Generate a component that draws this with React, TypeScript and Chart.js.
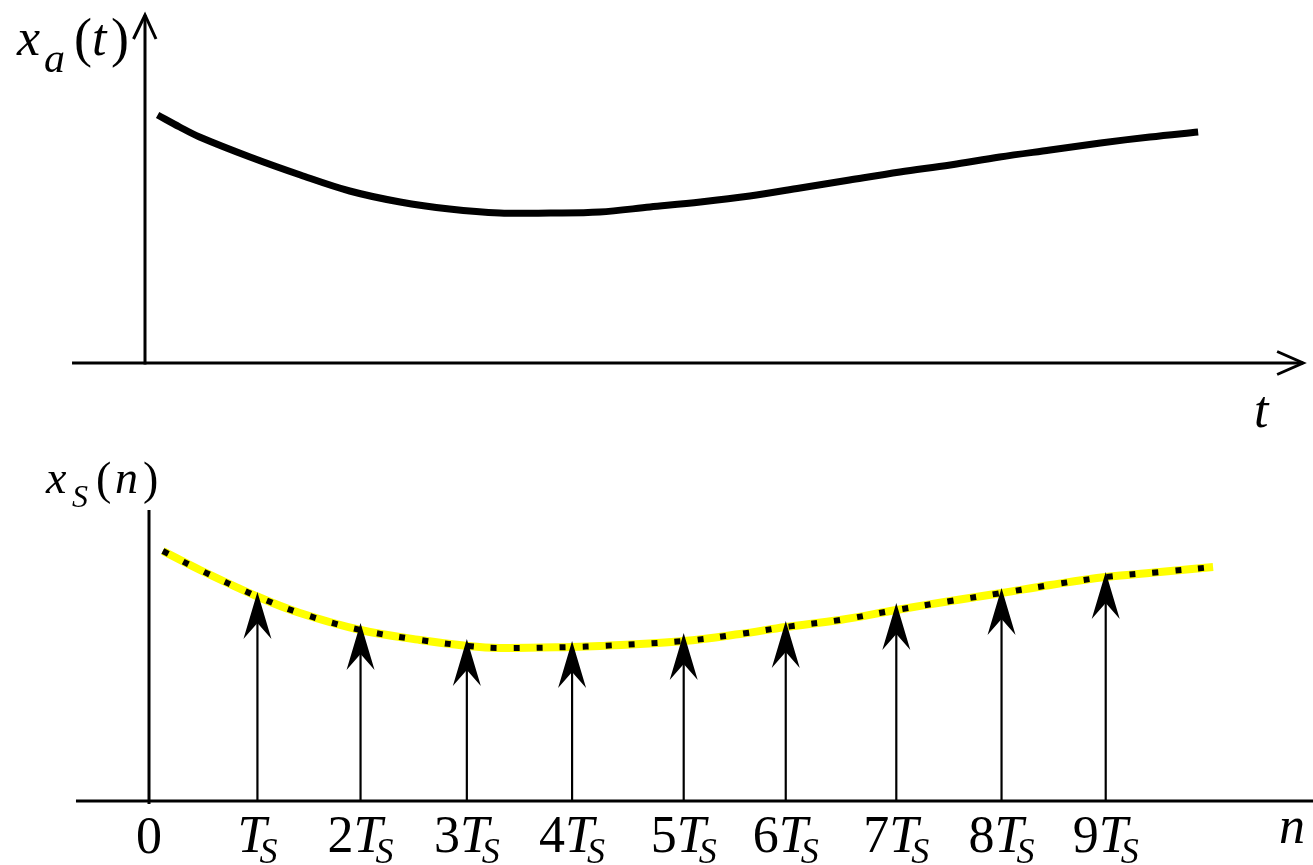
import React, { useEffect, useRef } from "react";
import { Chart, registerables } from "chart.js";

Chart.register(...registerables);

// ---------- data (time in units of T_S, amplitude in arbitrary units) ----------
const analogTime = [0.12, 0.33, 0.52, 1.0, 1.48, 1.95, 2.43, 2.9, 3.38, 3.86, 4.33, 4.81, 5.29, 5.76, 6.24, 6.71, 7.19, 7.67, 8.14, 8.62, 9.1, 9.57, 10.03];
const analogValue = [2.48, 2.36, 2.26, 2.06, 1.88, 1.72, 1.61, 1.54, 1.5, 1.5, 1.51, 1.56, 1.61, 1.67, 1.75, 1.83, 1.91, 1.98, 2.06, 2.13, 2.2, 2.26, 2.31];

const envelopeTime = [0.13, 0.48, 1.03, 1.42, 1.99, 2.55, 3.0, 3.3, 3.98, 4.24, 5.03, 5.56, 5.99, 6.5, 7.03, 7.54, 8.02, 8.48, 9.0, 9.51, 10.01];
const envelopeValue = [2.5, 2.31, 2.04, 1.88, 1.71, 1.61, 1.55, 1.53, 1.54, 1.55, 1.6, 1.67, 1.74, 1.81, 1.91, 2.0, 2.08, 2.16, 2.24, 2.29, 2.34];

const sampleTime = [1.02, 1.99, 2.99, 3.98, 5.03, 5.99, 7.03, 8.02, 9.0];
const sampleValue = [2.09, 1.78, 1.62, 1.6, 1.68, 1.8, 1.98, 2.13, 2.29];

const tickTime = [0, ...sampleTime];
const tickLabels = ["0", "T_S", "2T_S", "3T_S", "4T_S", "5T_S", "6T_S", "7T_S", "8T_S", "9T_S"];

// ---------- view ranges ----------
const TOP_T_RANGE = [-1.381, 11.124];
const TOP_A_RANGE = [-0.69, 3.63];
const BOT_T_RANGE = [-1.4017, 10.95];
const BOT_A_RANGE = [-0.64, 3.69];

const f = (size: number, italic: boolean) => `${italic ? "italic " : ""}${size}px "Liberation Serif"`;

type Piece = { text: string; font: string; x: number; y: number };

function drawPieces(ctx: CanvasRenderingContext2D, pieces: Piece[]) {
  ctx.save();
  ctx.fillStyle = "#000";
  ctx.textAlign = "left";
  ctx.textBaseline = "alphabetic";
  for (const p of pieces) {
    ctx.font = p.font;
    ctx.fillText(p.text, p.x, p.y);
  }
  ctx.restore();
}

function drawTickLabel(ctx: CanvasRenderingContext2D, label: string, cx: number, baseline: number) {
  ctx.save();
  ctx.fillStyle = "#000";
  ctx.textBaseline = "alphabetic";
  ctx.textAlign = "left";
  if (label.indexOf("T_S") < 0) {
    ctx.font = f(52, false);
    const w = ctx.measureText(label).width;
    ctx.fillText(label, cx - w / 2, baseline + 1);
    ctx.restore();
    return;
  }
  const prefix = label.replace("T_S", "");
  ctx.font = f(52, false);
  const wp = prefix ? ctx.measureText(prefix).width : 0;
  ctx.font = f(52, true);
  const wt = ctx.measureText("T").width;
  ctx.font = f(36, true);
  const ws = ctx.measureText("S").width;
  const kern = -7;
  const total = wp + wt + kern + ws;
  let x = cx - total / 2;
  if (prefix) {
    ctx.font = f(52, false);
    ctx.fillText(prefix, x, baseline);
  }
  x += wp;
  ctx.font = f(52, true);
  ctx.fillText("T", x, baseline);
  x += wt + kern;
  ctx.font = f(36, true);
  ctx.fillText("S", x, baseline + 11);
  ctx.restore();
}

function openArrowRight(ctx: CanvasRenderingContext2D, tipX: number, y: number) {
  ctx.beginPath();
  ctx.moveTo(tipX - 26, y - 11.5);
  ctx.lineTo(tipX, y);
  ctx.lineTo(tipX - 26, y + 11.5);
  ctx.stroke();
}

function openArrowUp(ctx: CanvasRenderingContext2D, x: number, tipY: number) {
  ctx.beginPath();
  ctx.moveTo(x - 11.5, tipY + 24);
  ctx.lineTo(x, tipY);
  ctx.lineTo(x + 11, tipY + 24);
  ctx.stroke();
}

const topDecor = {
  id: "topDecor",
  beforeDatasetsDraw(chart: any) {
    const { ctx } = chart;
    const xs = chart.scales.x;
    const ys = chart.scales.y;
    const x0 = xs.getPixelForValue(0);
    const y0 = ys.getPixelForValue(0);
    const xLeft = xs.getPixelForValue(-0.695);
    const xTip = xs.getPixelForValue(11.03);
    const yTip = ys.getPixelForValue(3.48);
    ctx.save();
    ctx.strokeStyle = "#000";
    ctx.lineWidth = 3;
    ctx.lineCap = "butt";
    ctx.lineJoin = "miter";
    ctx.beginPath();
    ctx.moveTo(xLeft, y0);
    ctx.lineTo(xTip, y0);
    ctx.stroke();
    openArrowRight(ctx, xTip, y0);
    ctx.beginPath();
    ctx.moveTo(x0, y0 + 1.5);
    ctx.lineTo(x0, yTip);
    ctx.stroke();
    openArrowUp(ctx, x0, yTip);
    ctx.restore();

    drawPieces(ctx, [
      { text: "x", font: f(52, true), x: 17, y: 55 },
      { text: "a", font: f(42, true), x: 44, y: 72 },
      { text: "(", font: f(54, false), x: 74, y: 56 },
      { text: "t", font: f(52, true), x: 92, y: 55 },
      { text: ")", font: f(54, false), x: 111, y: 56 },
      { text: "t", font: f(52, true), x: 1254, y: 427 },
    ]);
  },
};

const bottomDecor = {
  id: "bottomDecor",
  beforeDatasetsDraw(chart: any) {
    const { ctx } = chart;
    const xs = chart.scales.x;
    const ys = chart.scales.y;
    const x0 = xs.getPixelForValue(0);
    const y0 = ys.getPixelForValue(0);
    ctx.save();
    ctx.strokeStyle = "#000";
    ctx.lineWidth = 3;
    ctx.beginPath();
    ctx.moveTo(xs.getPixelForValue(-0.687), y0);
    ctx.lineTo(xs.getPixelForValue(BOT_T_RANGE[1]), y0);
    ctx.stroke();
    ctx.beginPath();
    ctx.moveTo(x0, ys.getPixelForValue(-0.03));
    ctx.lineTo(x0, ys.getPixelForValue(2.91));
    ctx.stroke();
    ctx.restore();

    const off = 432;
    drawPieces(ctx, [
      { text: "x", font: f(46, true), x: 46, y: 493 - off },
      { text: "S", font: f(32, true), x: 72, y: 507 - off },
      { text: "(", font: f(46, false), x: 96, y: 494 - off },
      { text: "n", font: f(46, true), x: 115, y: 493 - off },
      { text: ")", font: f(46, false), x: 143, y: 494 - off },
      { text: "n", font: f(52, true), x: 1279, y: 843 - off },
    ]);

    tickTime.forEach((t, i) => {
      drawTickLabel(ctx, tickLabels[i], xs.getPixelForValue(t), 852 - off);
    });
  },
  afterDatasetsDraw(chart: any) {
    const { ctx } = chart;
    const ys = chart.scales.y;
    const y0 = ys.getPixelForValue(0);
    const meta = chart.getDatasetMeta(2);
    ctx.save();
    ctx.fillStyle = "#000";
    ctx.strokeStyle = "#000";
    for (const pt of meta.data) {
      const x = pt.x;
      const tip = pt.y;
      ctx.lineWidth = 2.2;
      ctx.beginPath();
      ctx.moveTo(x, y0);
      ctx.lineTo(x, tip + 30);
      ctx.stroke();
      ctx.beginPath();
      ctx.moveTo(x, tip);
      ctx.lineTo(x + 14, tip + 47);
      ctx.lineTo(x, tip + 31);
      ctx.lineTo(x - 14, tip + 47);
      ctx.closePath();
      ctx.fill();
    }
    ctx.restore();
  },
};

const pairs = (xs: number[], ys: number[]) => xs.map((x, i) => ({ x, y: ys[i] }));

export default function App() {
  const topRef = useRef<HTMLCanvasElement>(null);
  const botRef = useRef<HTMLCanvasElement>(null);

  useEffect(() => {
    const common = {
      responsive: false,
      animation: false as const,
      devicePixelRatio: 1,
      layout: { padding: 0, autoPadding: false },
      plugins: { legend: { display: false }, tooltip: { enabled: false }, title: { display: false } },
      events: [] as any[],
    };

    const top = new Chart(topRef.current!, {
      type: "line",
      data: {
        datasets: [
          {
            data: pairs(analogTime, analogValue),
            borderColor: "#000",
            borderWidth: 7,
            borderCapStyle: "butt",
            pointRadius: 0,
            tension: 0.35,
            fill: false,
          },
        ],
      },
      options: {
        ...common,
        scales: {
          x: { type: "linear", min: TOP_T_RANGE[0], max: TOP_T_RANGE[1], display: false },
          y: { type: "linear", min: TOP_A_RANGE[0], max: TOP_A_RANGE[1], display: false },
        },
      },
      plugins: [topDecor],
    } as any);

    const bot = new Chart(botRef.current!, {
      type: "line",
      data: {
        datasets: [
          {
            data: pairs(envelopeTime, envelopeValue),
            borderColor: "#ffff00",
            borderWidth: 8,
            borderCapStyle: "butt",
            pointRadius: 0,
            tension: 0.35,
            fill: false,
            order: 2,
          },
          {
            data: pairs(envelopeTime, envelopeValue),
            borderColor: "#000",
            borderWidth: 6,
            borderDash: [6, 17],
            borderCapStyle: "butt",
            pointRadius: 0,
            tension: 0.35,
            fill: false,
            order: 1,
          },
          {
            type: "scatter",
            data: pairs(sampleTime, sampleValue),
            pointRadius: 0,
            showLine: false,
            order: 0,
          },
        ],
      },
      options: {
        ...common,
        scales: {
          x: { type: "linear", min: BOT_T_RANGE[0], max: BOT_T_RANGE[1], display: false },
          y: { type: "linear", min: BOT_A_RANGE[0], max: BOT_A_RANGE[1], display: false },
        },
      },
      plugins: [bottomDecor],
    } as any);

    let alive = true;
    const fonts = (document as any).fonts;
    if (fonts && fonts.load) {
      Promise.all([fonts.load(f(52, false)), fonts.load(f(52, true))])
        .catch(() => undefined)
        .then(() => {
          if (alive) {
            top.update("none");
            bot.update("none");
          }
        });
    }

    return () => {
      alive = false;
      top.destroy();
      bot.destroy();
    };
  }, []);

  return (
    <div style={{ position: "fixed", left: 0, top: 0, width: 1313, height: 865, background: "#fff" }}>
      <canvas ref={topRef} width={1313} height={432} style={{ position: "absolute", left: 0, top: 0 }} />
      <canvas ref={botRef} width={1313} height={433} style={{ position: "absolute", left: 0, top: 432 }} />
    </div>
  );
}
